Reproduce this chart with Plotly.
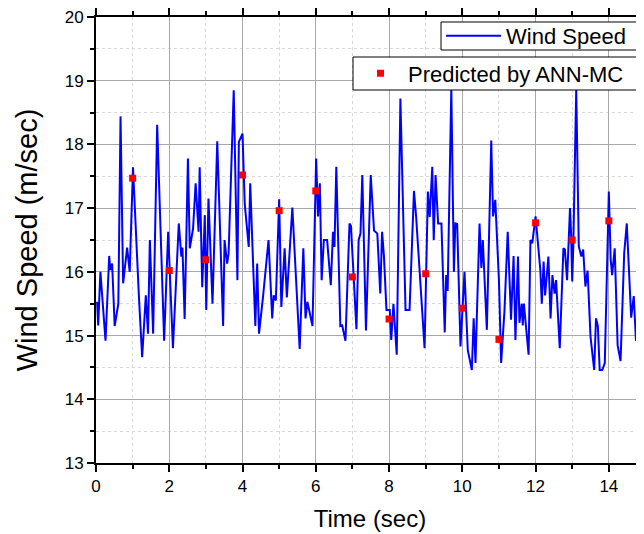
import plotly.graph_objects as go

# Measured wind speed (m/sec) vs time (sec)
time_s = [0.03, 0.06, 0.12, 0.26, 0.36, 0.39, 0.44, 0.51, 0.61, 0.67, 0.74, 0.85, 0.92,
          1.01, 1.17, 1.26, 1.36, 1.42, 1.47, 1.56, 1.67, 1.86, 1.97, 2.10, 2.26, 2.33,
          2.36, 2.42, 2.51, 2.56, 2.65, 2.72, 2.80, 2.83, 2.90, 2.97, 3.01, 3.07, 3.18,
          3.31, 3.47, 3.51, 3.58, 3.62, 3.76, 3.86, 3.90, 4.00, 4.06, 4.17, 4.21, 4.35,
          4.40, 4.45, 4.56, 4.71, 4.81, 4.85, 4.91, 5.00, 5.06, 5.15, 5.21, 5.36, 5.56,
          5.66, 5.72, 5.77, 5.91, 6.01, 6.06, 6.11, 6.16, 6.22, 6.31, 6.41, 6.47, 6.51,
          6.56, 6.67, 6.72, 6.81, 6.92, 6.96, 7.11, 7.17, 7.22, 7.27, 7.37, 7.50, 7.59,
          7.68, 7.76, 7.81, 7.86, 7.93, 8.02, 8.06, 8.12, 8.21, 8.31, 8.45, 8.56, 8.68,
          8.74, 8.97, 9.06, 9.11, 9.18, 9.22, 9.27, 9.34, 9.43, 9.52, 9.56, 9.60, 9.70,
          9.77, 9.81, 9.86, 9.95, 10.06, 10.15, 10.26, 10.31, 10.36, 10.47, 10.52, 10.56,
          10.67, 10.79, 10.84, 10.90, 11.00, 11.06, 11.15, 11.24, 11.30, 11.33, 11.40,
          11.45, 11.52, 11.56, 11.62, 11.65, 11.68, 11.72, 11.81, 11.86, 11.91, 12.00,
          12.06, 12.13, 12.17, 12.22, 12.26, 12.35, 12.41, 12.46, 12.52, 12.56, 12.66,
          12.76, 12.80, 12.86, 12.94, 12.97, 13.00, 13.03, 13.11, 13.18, 13.25, 13.30,
          13.36, 13.42, 13.50, 13.60, 13.65, 13.70, 13.75, 13.82, 13.89, 13.97, 14.00,
          14.05, 14.09, 14.16, 14.24, 14.32, 14.42, 14.49, 14.57, 14.61, 14.68, 14.74,
          14.80, 14.89, 14.95]
wind_speed = [15.53, 15.16, 16.00, 14.92, 16.25, 16.03, 16.13, 15.15, 15.50, 18.44, 15.82, 16.38, 16.00,
              17.64, 15.63, 14.66, 15.63, 15.03, 16.50, 15.03, 18.31, 14.92, 16.63, 14.80, 16.76, 16.24,
              16.38, 15.26, 17.78, 16.37, 16.68, 17.39, 16.63, 17.64, 15.76, 16.89, 15.40, 17.15, 15.50,
              18.05, 15.15, 16.50, 16.13, 16.29, 18.85, 15.87, 18.04, 18.17, 17.07, 16.39, 17.39, 15.15,
              16.13, 15.03, 15.61, 16.50, 15.27, 15.63, 15.55, 17.14, 15.45, 16.37, 15.60, 17.01, 14.79,
              16.37, 15.27, 15.53, 15.15, 17.78, 16.87, 17.39, 15.87, 16.50, 16.50, 15.79, 16.63, 16.39,
              17.65, 15.15, 15.16, 14.92, 16.76, 16.72, 15.10, 16.50, 16.60, 17.52, 15.08, 17.52, 16.65,
              16.60, 15.66, 16.63, 16.25, 15.40, 15.40, 14.93, 15.50, 14.70, 18.72, 15.40, 15.40, 17.27,
              16.86, 14.80, 17.26, 16.86, 17.65, 16.50, 17.52, 16.76, 16.76, 15.05, 15.95, 15.70, 18.88,
              16.00, 16.76, 16.75, 14.83, 16.00, 14.77, 14.46, 15.27, 14.57, 16.76, 16.06, 16.50,
              15.09, 18.06, 16.87, 17.13, 15.87, 14.57, 15.38, 16.63, 15.72, 15.25, 16.25,
              14.93, 16.24, 15.20, 15.50, 15.16, 15.50, 15.22, 14.70, 16.50, 16.45, 16.87,
              16.50, 16.03, 15.50, 16.16, 15.63, 16.24, 15.27, 15.95, 15.66, 15.87, 14.80,
              16.37, 16.35, 15.87, 17.00, 16.60, 15.85, 16.40, 18.86, 16.40, 16.24, 16.35,
              15.77, 16.02, 14.98, 14.46, 15.27, 15.15, 14.46, 14.46, 14.57, 16.40, 17.26,
              16.20, 15.95, 16.37, 14.85, 14.60, 16.30, 16.76, 15.70, 15.28, 15.62, 14.93,
              14.92, 15.18, 14.45]

# ANN-MC predictions at whole seconds
pred_time = [1, 2, 3, 4, 5, 6, 7, 8, 9, 10, 11, 12, 13, 14]
pred_speed = [17.47, 16.02, 16.19, 17.52, 16.96, 17.27, 15.92, 15.26, 15.97, 15.43,
              14.94, 16.77, 16.50, 16.80]

FONT = "Liberation Sans, Arial, sans-serif"

fig = go.Figure()
fig.add_trace(go.Scatter(
    x=time_s, y=wind_speed, mode="lines", name="Wind Speed",
    line=dict(color="#0000FF", width=2), legend="legend"))
fig.add_trace(go.Scatter(
    x=pred_time, y=pred_speed, mode="markers", name="Predicted by ANN-MC",
    marker=dict(color="#FF0000", symbol="square", size=7, line=dict(width=0)),
    legend="legend2"))

axis_common = dict(
    showline=True, linecolor="black", linewidth=2,
    ticks="outside", ticklen=7, tickwidth=1.5, tickcolor="black",
    showgrid=True, gridcolor="#a8a8a8", gridwidth=1,
    zeroline=False, automargin=False, ticklabeloverflow="allow",
    tickfont=dict(family=FONT, size=17, color="black"),
)

fig.update_xaxes(
    **axis_common,
    range=[0, 14.96], dtick=2, tick0=0, mirror="ticks",
    minor=dict(dtick=1, ticks="outside", ticklen=4, tickcolor="black",
               showgrid=True, gridcolor="#d8d8d8", griddash="dot", gridwidth=1),
    title=dict(text="Time (sec)", font=dict(family=FONT, size=24, color="black"), standoff=15),
)
fig.update_yaxes(
    **axis_common,
    range=[13, 20], dtick=1, tick0=13, mirror=False,
    minor=dict(dtick=0.5, ticks="outside", ticklen=4, tickcolor="black",
               showgrid=True, gridcolor="#d8d8d8", griddash="dot", gridwidth=1),
    title=dict(text="Wind Speed (m/sec)", font=dict(family=FONT, size=29, color="black"), standoff=19),
)

# Legend frames (drawn as boxes in paper coordinates, legends placed inside)
legend_boxes = [
    dict(x0=0.6296, x1=0.9872, y0=0.926, y1=0.9888),
    dict(x0=0.4690, x1=0.9872, y0=0.8363, y1=0.9103),
]
for b in legend_boxes:
    fig.add_shape(type="rect", xref="paper", yref="paper", layer="above",
                  line=dict(color="black", width=1), fillcolor="white", **b)

legend_common = dict(
    bgcolor="rgba(0,0,0,0)", borderwidth=0,
    font=dict(family=FONT, size=22, color="black"),
    xanchor="left", yanchor="middle", xref="paper", yref="paper",
    tracegroupgap=0,
)
# page body has an 8px margin: size the figure so the plot frame lands where the reference has it
fig.update_layout(
    width=636, height=526,
    margin=dict(l=88, r=0, t=9, b=71),
    paper_bgcolor="white", plot_bgcolor="white",
    showlegend=True,
    legend=dict(**legend_common, x=0.6296, y=0.9574, itemwidth=55),
    legend2=dict(**legend_common, x=0.4690, y=0.8733, itemwidth=45),
)

fig.write_html("out.html")
